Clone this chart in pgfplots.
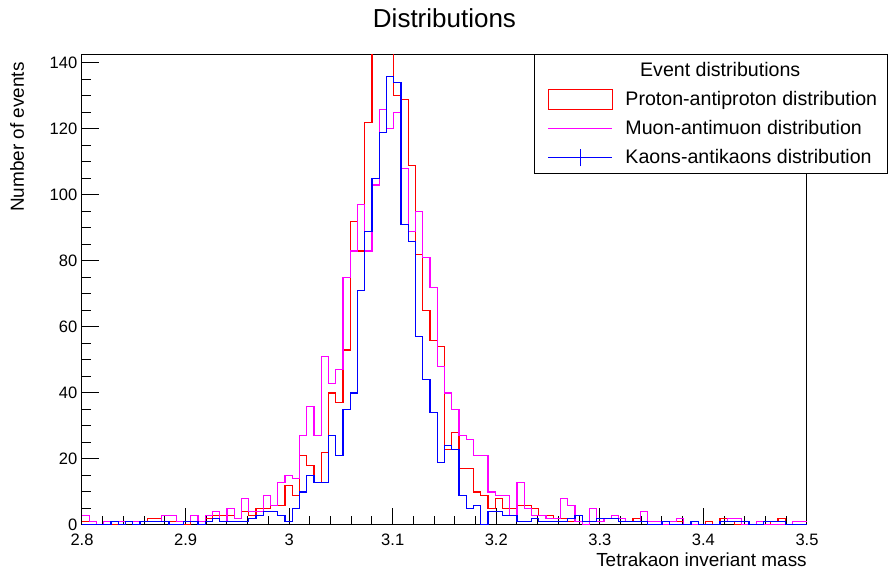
\documentclass[border=0pt]{standalone}
\usepackage{fontspec}
\setmainfont{Liberation Sans}
\usepackage{pgfplots}
\usepackage{pgfplotstable}
\pgfplotsset{compat=1.18}

\definecolor{hred}{rgb}{1,0,0}
\definecolor{hmag}{rgb}{1,0,1}
\definecolor{hblue}{rgb}{0,0,1}

% 100 bins of width 0.007 on [2.8,3.5]; x = left bin edge, last row closes the step
\pgfplotstableread{
x     r    m    b
2.800 1    3    0
2.807 1    1    0
2.814 0    0    0
2.821 0    1    0
2.828 0    1    1
2.835 1    1    0
2.842 1    1    1
2.849 1    1    0
2.856 1    1    1
2.863 2    1    1
2.870 2    1    1
2.877 1    3    1
2.884 1    3    0
2.891 1    1    0
2.898 0    1    1
2.905 1    3    1
2.912 1    1    0
2.919 2    3    1
2.926 3    4    2
2.933 3    1    1
2.940 3    5    1
2.947 2    2    1
2.954 4    8    1
2.961 3    4    2
2.968 5    4    3
2.975 5    9    4
2.982 6    6    4
2.989 6    13   3
2.996 12   15   1
3.003 9    14   5
3.010 21   27   10
3.017 18   36   15
3.024 13   27   13
3.031 22   51   13
3.038 40   43   27
3.045 37   47   21
3.052 53   75   35
3.059 92   83   40
3.066 83   97   71
3.073 122  83   89
3.080 160  103  105
3.087 160  126  119
3.094 160  120  136
3.101 130  125  134
3.108 129  108  91
3.115 109  89   86
3.122 82   95   57
3.129 65   81   44
3.136 56   72   34
3.143 54   48   19
3.150 23   40   24
3.157 28   35   23
3.164 17   27   9
3.171 17   26   5
3.178 10   21   6
3.185 9    21   0
3.192 5    10   4
3.199 8    9    4
3.206 5    9    3
3.213 5    3    3
3.220 6    13   1
3.227 6    5    1
3.234 5    3    2
3.241 3    3    1
3.248 3    2    1
3.255 2    2    1
3.262 2    8    1
3.269 1    6    2
3.276 1    1    3
3.283 1    0    1
3.290 5    5    1
3.297 1    1    2
3.304 2    2    2
3.311 2    3    2
3.318 2    2    1
3.325 1    1    1
3.332 2    1    1
3.339 1    4    1
3.346 1    1    0
3.353 1    1    0
3.360 1    0    1
3.367 1    1    0
3.374 1    2    0
3.381 0    0    0
3.388 0    0    1
3.395 0    0    0
3.402 1    0    0
3.409 0    0    0
3.416 2    1    1
3.423 1    2    1
3.430 0    2    1
3.437 0    0    1
3.444 0    0    0
3.451 0    1    0
3.458 0    0    1
3.465 1    0    1
3.472 2    0    1
3.479 0    0    0
3.486 0    1    0
3.493 0    1    0
3.500 0    1    0
}\hists

\begin{document}
\begin{tikzpicture}
\useasboundingbox (0pt,0pt) rectangle (667.5pt,427.5pt);
\begin{axis}[
    at={(61.5pt,33.75pt)}, anchor=south west,
    scale only axis,
    width=543.75pt, height=352.5pt,
    xmin=2.8, xmax=3.5,
    ymin=0, ymax=142.4,
    xtick={2.8,2.9,3,3.1,3.2,3.3,3.4,3.5},
    ytick={0,20,40,60,80,100,120,140},
    minor x tick num=4,
    minor y tick num=3,
    tick align=inside,
    tick pos=left,
    major tick length=13pt,
    minor tick length=6.5pt,
    major tick style={draw=black, line width=0.75pt},
    minor tick style={draw=black, line width=0.75pt},
    axis line style={line width=0.75pt},
    ticklabel style={font=\fontsize{12.4}{14}\selectfont},
    xticklabel style={yshift=-3pt},
    /pgf/number format/assume math mode=true,
    title={Distributions},
    title style={at={(axis description cs:0.5,1.0617)}, anchor=center, inner sep=0pt,
        font=\fontsize{19.5}{22}\selectfont},
    xlabel={Tetrakaon inveriant mass},
    xlabel style={at={(axis description cs:1,0)}, anchor=base east, inner sep=0pt,
        yshift=-31.5pt, font=\fontsize{14.2}{16}\selectfont},
    ylabel={Number of events},
    ylabel style={at={(axis description cs:-0.0803,0.985)}, anchor=base east, inner sep=0pt,
        font=\fontsize{14.2}{16}\selectfont},
    legend style={at={(axis description cs:0.6234,1.002)}, anchor=north west,
        draw=black, line width=0.75pt, fill=white,
        font=\fontsize{14.7}{17}\selectfont,
        inner xsep=0pt, inner ysep=0.75pt, row sep=0pt, column sep=0pt,
        nodes={inner sep=0pt, text height=15.5pt, text depth=6.4pt}},
    legend cell align=left,
]
\addlegendimage{empty legend}
\addlegendentry{\hspace*{11pt}Event distributions}

\addplot[const plot, draw=hred, line width=0.85pt,
    legend image code/.code={
        \path[draw=none] (0pt,0pt) -- (68.25pt,0pt);
        \draw[draw=hred, line width=0.85pt] (10.5pt,-7.5pt) rectangle (58.5pt,7.5pt);
    }] table[x=x, y=r] {\hists};
\addlegendentry{Proton-antiproton distribution\hspace*{8pt}}

\addplot[const plot, draw=hmag, line width=0.85pt,
    legend image code/.code={
        \path[draw=none] (0pt,0pt) -- (68.25pt,0pt);
        \draw[draw=hmag, line width=0.85pt] (10.5pt,0pt) -- (58.5pt,0pt);
    }] table[x=x, y=m] {\hists};
\addlegendentry{Muon-antimuon distribution}

\addplot[const plot, draw=hblue, line width=0.85pt,
    legend image code/.code={
        \path[draw=none] (0pt,0pt) -- (68.25pt,0pt);
        \draw[draw=hblue, line width=0.85pt] (10.5pt,0pt) -- (58.5pt,0pt);
        \draw[draw=hblue, line width=0.85pt] (34.5pt,-6.5pt) -- (34.5pt,6.5pt);
    }] table[x=x, y=b] {\hists};
\addlegendentry{Kaons-antikaons distribution}
\end{axis}
\end{tikzpicture}
\end{document}
